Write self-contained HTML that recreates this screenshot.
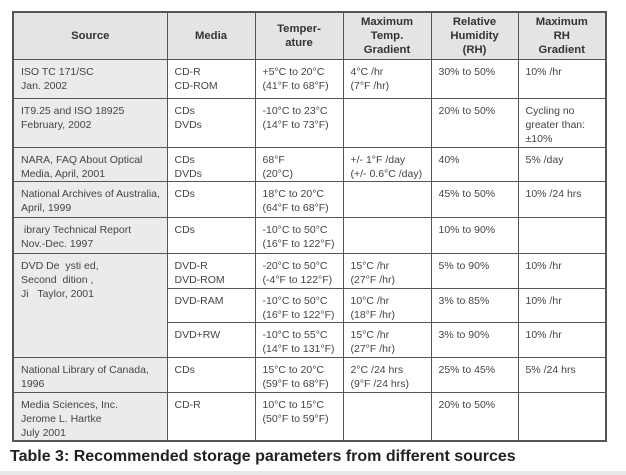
<!DOCTYPE html>
<html><head><meta charset="utf-8"><style>
body{margin:0;width:626px;height:475px;background:#fff;overflow:hidden;font-family:"Liberation Sans",Arial,sans-serif;position:relative}
table{position:absolute;left:12px;top:11px;border-collapse:collapse;table-layout:fixed;color:#444;font-size:10.5px;line-height:14px}
td,th{border:1px solid #555;vertical-align:top;padding:5px 4px 0 7px;overflow:hidden}
th{background:#e4e4e4;font-weight:bold;text-align:center;vertical-align:middle;padding:0;color:#333;font-size:11.3px;line-height:14px}
td.s{background:#ebebeb}
td.n{white-space:nowrap}
table{border:2px solid #555}
.cap{position:absolute;left:10px;top:448px;font-weight:bold;font-size:16px;color:#222;white-space:nowrap}
.bar{position:absolute;left:0;top:471px;width:626px;height:4px;background:#e8e8e8}
</style></head><body>
<table>
<colgroup><col style="width:154px"><col style="width:88px"><col style="width:88px"><col style="width:88px"><col style="width:87px"><col style="width:88px"></colgroup>
<tr style="height:47px"><th>Source</th><th>Media</th><th>Temper-<br>ature</th><th>Maximum<br>Temp.<br>Gradient</th><th>Relative<br>Humidity<br>(RH)</th><th>Maximum<br>RH<br>Gradient</th></tr>
<tr style="height:39px"><td class="s">ISO TC 171/SC<br>Jan. 2002</td><td>CD-R<br>CD-ROM</td><td class="n">+5°C to 20°C<br>(41°F to 68°F)</td><td class="n">4°C /hr<br>(7°F /hr)</td><td>30% to 50%</td><td>10% /hr</td></tr>
<tr style="height:49px"><td class="s">IT9.25 and ISO 18925<br>February, 2002</td><td>CDs<br>DVDs</td><td class="n">-10°C to 23°C<br>(14°F to 73°F)</td><td></td><td>20% to 50%</td><td>Cycling no greater than:<br>±10%</td></tr>
<tr style="height:33px"><td class="s">NARA, FAQ About Optical<br>Media, April, 2001</td><td>CDs<br>DVDs</td><td class="n">68°F<br>(20°C)</td><td class="n">+/- 1°F /day<br>(+/- 0.6°C /day)</td><td>40%</td><td>5% /day</td></tr>
<tr style="height:36px"><td class="s n">National Archives of Australia,<br>April, 1999</td><td>CDs</td><td class="n">18°C to 20°C<br>(64°F to 68°F)</td><td></td><td>45% to 50%</td><td>10% /24 hrs</td></tr>
<tr style="height:36px"><td class="s">&nbsp;ibrary Technical Report<br>Nov.-Dec. 1997</td><td>CDs</td><td class="n">-10°C to 50°C<br>(16°F to 122°F)</td><td></td><td>10% to 90%</td><td></td></tr>
<tr style="height:35px"><td class="s" rowspan="3">DVD De&nbsp;&nbsp;ysti&nbsp;ed,<br>Second&nbsp;&nbsp;dition&nbsp;,<br>Ji&nbsp;&nbsp;&nbsp;Taylor, 2001</td><td>DVD-R<br>DVD-ROM</td><td class="n">-20°C to 50°C<br>(-4°F to 122°F)</td><td class="n">15°C /hr<br>(27°F /hr)</td><td>5% to 90%</td><td>10% /hr</td></tr>
<tr style="height:34px"><td>DVD-RAM</td><td class="n">-10°C to 50°C<br>(16°F to 122°F)</td><td class="n">10°C /hr<br>(18°F /hr)</td><td>3% to 85%</td><td>10% /hr</td></tr>
<tr style="height:35px"><td>DVD+RW</td><td class="n">-10°C to 55°C<br>(14°F to 131°F)</td><td class="n">15°C /hr<br>(27°F /hr)</td><td>3% to 90%</td><td>10% /hr</td></tr>
<tr style="height:35px"><td class="s">National Library of Canada,<br>1996</td><td>CDs</td><td class="n">15°C to 20°C<br>(59°F to 68°F)</td><td class="n">2°C /24 hrs<br>(9°F /24 hrs)</td><td>25% to 45%</td><td>5% /24 hrs</td></tr>
<tr style="height:47px"><td class="s">Media Sciences, Inc.<br>Jerome L. Hartke<br>July 2001</td><td>CD-R</td><td class="n">10°C to 15°C<br>(50°F to 59°F)</td><td></td><td>20% to 50%</td><td></td></tr>
</table>
<div class="cap">Table 3: Recommended storage parameters from different sources</div>
<div class="bar"></div>
</body></html>
